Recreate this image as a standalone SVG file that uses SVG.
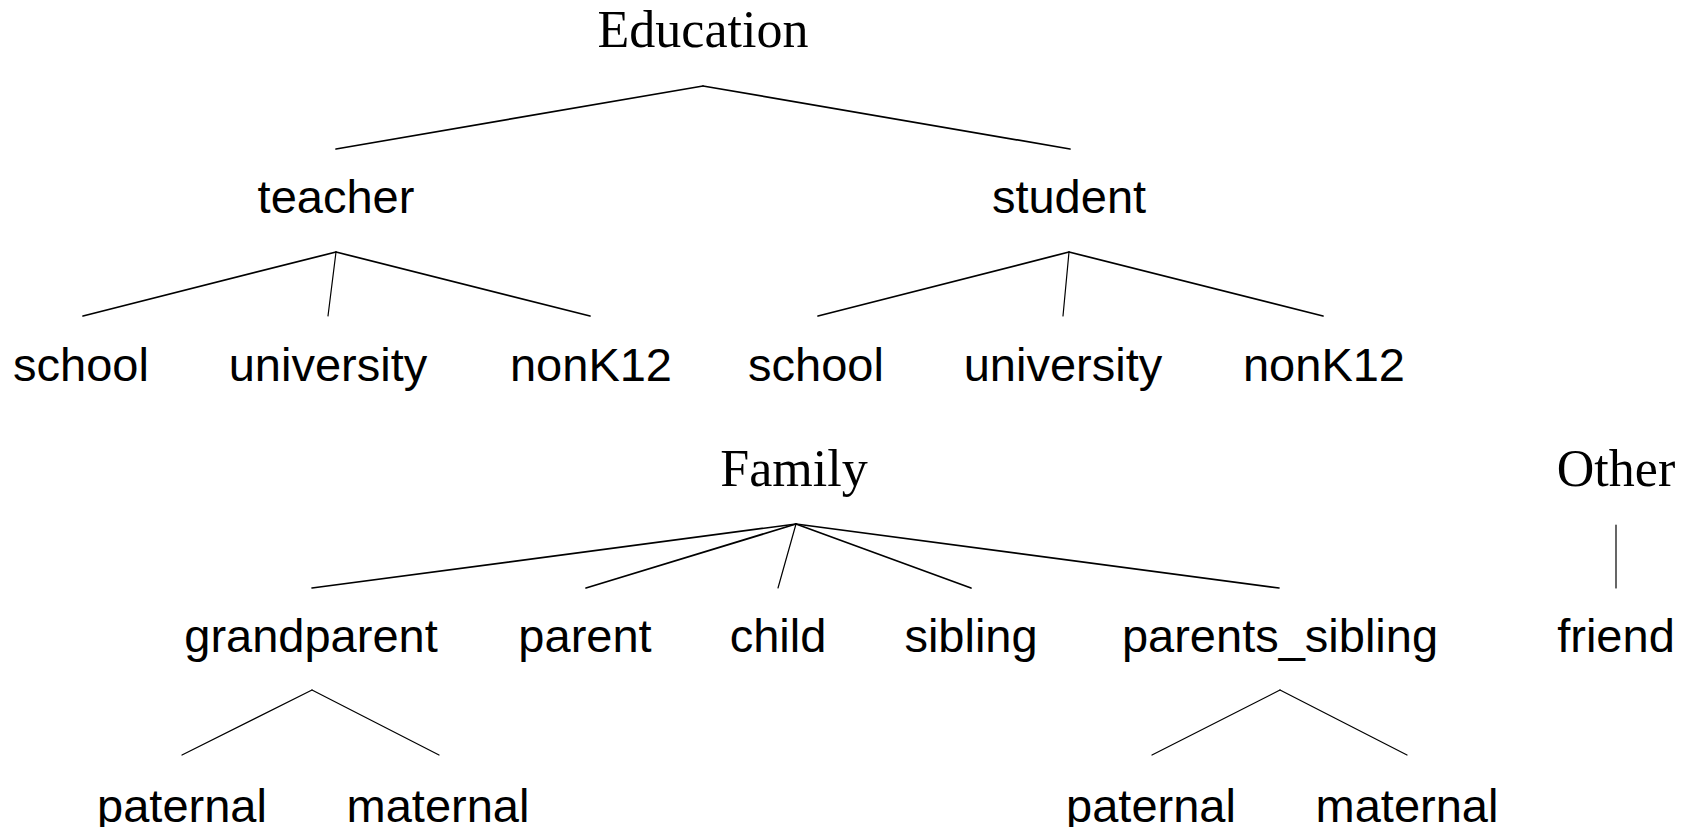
<svg xmlns="http://www.w3.org/2000/svg" width="1691" height="827" viewBox="0 0 1691 827">
<style>
.serif{font-family:"Liberation Serif","Times New Roman",serif;font-size:52px;fill:#000;text-anchor:middle}
.sans{font-family:"Liberation Sans",Arial,sans-serif;font-size:47px;fill:#000;text-anchor:middle}
.edge{stroke:#000;stroke-width:1.7;fill:none;stroke-linecap:round}
.thin{stroke-width:1.2}
</style>
<rect width="1691" height="827" fill="#fff"/>
<g id="connectors">
<line class="edge" x1="703" y1="86" x2="336" y2="149"/>
<line class="edge" x1="703" y1="86" x2="1070" y2="149"/>
<line class="edge" x1="336" y1="252" x2="83" y2="316"/>
<line class="edge thin" x1="336" y1="252" x2="328" y2="316"/>
<line class="edge" x1="336" y1="252" x2="590" y2="316"/>
<line class="edge" x1="1069" y1="252" x2="818" y2="316"/>
<line class="edge thin" x1="1069" y1="252" x2="1063" y2="316"/>
<line class="edge" x1="1069" y1="252" x2="1323" y2="316"/>
<line class="edge" x1="796" y1="524" x2="312" y2="588"/>
<line class="edge" x1="796" y1="524" x2="586" y2="588"/>
<line class="edge thin" x1="796" y1="524" x2="778" y2="588"/>
<line class="edge" x1="796" y1="524" x2="971" y2="588"/>
<line class="edge" x1="796" y1="524" x2="1279" y2="588"/>
<line class="edge thin" x1="1616" y1="525" x2="1616" y2="588"/>
<line class="edge thin" x1="312" y1="690" x2="182" y2="755"/>
<line class="edge thin" x1="312" y1="690" x2="439" y2="755"/>
<line class="edge thin" x1="1280" y1="690" x2="1152" y2="755"/>
<line class="edge thin" x1="1280" y1="690" x2="1407" y2="755"/>
</g>
<g id="education"><text class="serif" x="703" y="47">Education</text></g>
<g id="teacher"><text class="sans" x="336" y="213">teacher</text></g>
<g id="student"><text class="sans" x="1069" y="213">student</text></g>
<g id="t_school"><text class="sans" x="81" y="381">school</text></g>
<g id="t_university"><text class="sans" x="328" y="381">university</text></g>
<g id="t_nonK12"><text class="sans" x="591" y="381">nonK12</text></g>
<g id="s_school"><text class="sans" x="816" y="381">school</text></g>
<g id="s_university"><text class="sans" x="1063" y="381">university</text></g>
<g id="s_nonK12"><text class="sans" x="1324" y="381">nonK12</text></g>
<g id="family"><text class="serif" x="794" y="486">Family</text></g>
<g id="other"><text class="serif" x="1616" y="486">Other</text></g>
<g id="grandparent"><text class="sans" x="311" y="652">grandparent</text></g>
<g id="parent"><text class="sans" x="585" y="652">parent</text></g>
<g id="child"><text class="sans" x="778" y="652">child</text></g>
<g id="sibling"><text class="sans" x="971" y="652">sibling</text></g>
<g id="parents_sibling"><text class="sans" x="1280" y="652">parents_sibling</text></g>
<g id="friend"><text class="sans" x="1616" y="652">friend</text></g>
<g id="g_paternal"><text class="sans" x="182" y="822">paternal</text></g>
<g id="g_maternal"><text class="sans" x="438" y="822">maternal</text></g>
<g id="p_paternal"><text class="sans" x="1151" y="822">paternal</text></g>
<g id="p_maternal"><text class="sans" x="1407" y="822">maternal</text></g>
</svg>
